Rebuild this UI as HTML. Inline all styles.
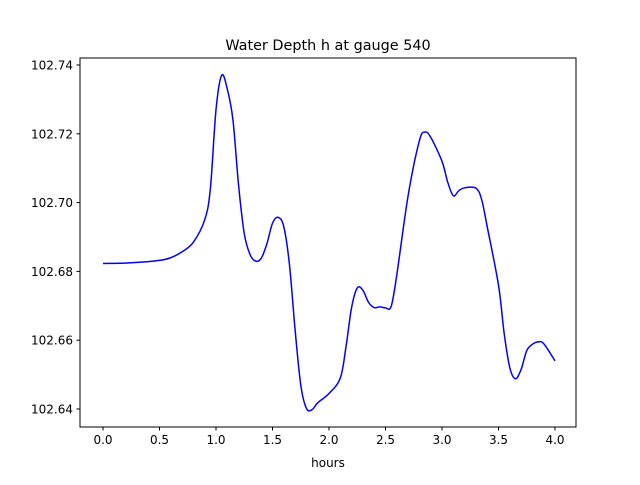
<!DOCTYPE html>
<html><head><meta charset="utf-8"><style>
body{margin:0;background:#fff;}
text{font-family:"DejaVu Sans","Liberation Sans",sans-serif;}
</style></head><body>
<svg id="chart" width="640" height="480" xmlns="http://www.w3.org/2000/svg"></svg>
<script>
const hours=[0,0.25,0.5,0.6,0.7,0.8,0.9,0.95,1.0,1.05,1.1,1.15,1.2,1.25,1.3,1.35,1.4,1.45,1.5,1.55,1.6,1.65,1.7,1.75,1.8,1.85,1.9,2.0,2.1,2.15,2.2,2.25,2.3,2.35,2.4,2.45,2.5,2.55,2.6,2.7,2.8,2.85,2.9,3.0,3.05,3.1,3.15,3.2,3.3,3.35,3.4,3.5,3.55,3.6,3.65,3.7,3.75,3.8,3.85,3.9,4.0];
const depth=[102.6823,102.6825,102.6832,102.684,102.6857,102.6885,102.695,102.704,102.727,102.737,102.733,102.724,102.705,102.691,102.685,102.683,102.6838,102.688,102.694,102.6957,102.693,102.682,102.663,102.647,102.6402,102.6398,102.6418,102.6445,102.649,102.658,102.6695,102.6752,102.6745,102.671,102.6695,102.6697,102.6694,102.6698,102.679,102.702,102.718,102.7205,102.719,102.712,102.706,102.702,102.7035,102.7043,102.7042,102.701,102.693,102.676,102.662,102.652,102.6488,102.6515,102.657,102.6588,102.6595,102.659,102.654];
const xTicks=[0,0.5,1,1.5,2,2.5,3,3.5,4];
const xTickLabels=["0.0","0.5","1.0","1.5","2.0","2.5","3.0","3.5","4.0"];
const yTicks=[102.64,102.66,102.68,102.70,102.72,102.74];
const yTickLabels=["102.64","102.66","102.68","102.70","102.72","102.74"];

const svg=document.getElementById('chart');
const NS='http://www.w3.org/2000/svg';
const L=80,R=576,T=58,B=427;
const xs=h=>103+h*113;
const ys=v=>409-(v-102.64)*3440;
function mk(tag,attrs,txt){const e=document.createElementNS(NS,tag);for(const k in attrs)e.setAttribute(k,attrs[k]);if(txt!==undefined)e.textContent=txt;svg.appendChild(e);return e;}

// curve
let pts=hours.map((h,i)=>[xs(h),ys(depth[i])]);
let d='M'+pts[0][0]+','+pts[0][1];
for(let i=0;i<pts.length-1;i++){
  const p0=pts[Math.max(0,i-1)],p1=pts[i],p2=pts[i+1],p3=pts[Math.min(pts.length-1,i+2)];
  const c1=[p1[0]+(p2[0]-p0[0])/6,p1[1]+(p2[1]-p0[1])/6];
  const c2=[p2[0]-(p3[0]-p1[0])/6,p2[1]-(p3[1]-p1[1])/6];
  d+=` C${c1[0]},${c1[1]} ${c2[0]},${c2[1]} ${p2[0]},${p2[1]}`;
}
const line=mk('path',{d:d,fill:'none',stroke:'#0000ff','stroke-width':1.5});



const frame=mk('rect',{x:L,y:T,width:R-L,height:B-T,fill:'none',stroke:'#000','stroke-width':1});



xTicks.forEach((t,i)=>{
  const x=xs(t);
  const tk=mk('line',{x1:x,x2:x,y1:B,y2:B+3.5,stroke:'#000'});
  
  
  const lb=mk('text',{x:x,y:B+17,'font-size':12,'text-anchor':'middle'},xTickLabels[i]);
  
  
});
yTicks.forEach((t,i)=>{
  const y=ys(t);
  const tk=mk('line',{x1:L-3.5,x2:L,y1:y,y2:y,stroke:'#000'});
  
  
  const lb=mk('text',{x:L-7,y:y+4.5,'font-size':12,'text-anchor':'end'},yTickLabels[i]);
  
  
});
const xt=mk('text',{x:(L+R)/2,y:467,'font-size':12,'text-anchor':'middle'},'hours');


const ti=mk('text',{x:(L+R)/2,y:50,'font-size':14.4,'text-anchor':'middle'},'Water Depth h at gauge 540');


</script>
</body></html>
